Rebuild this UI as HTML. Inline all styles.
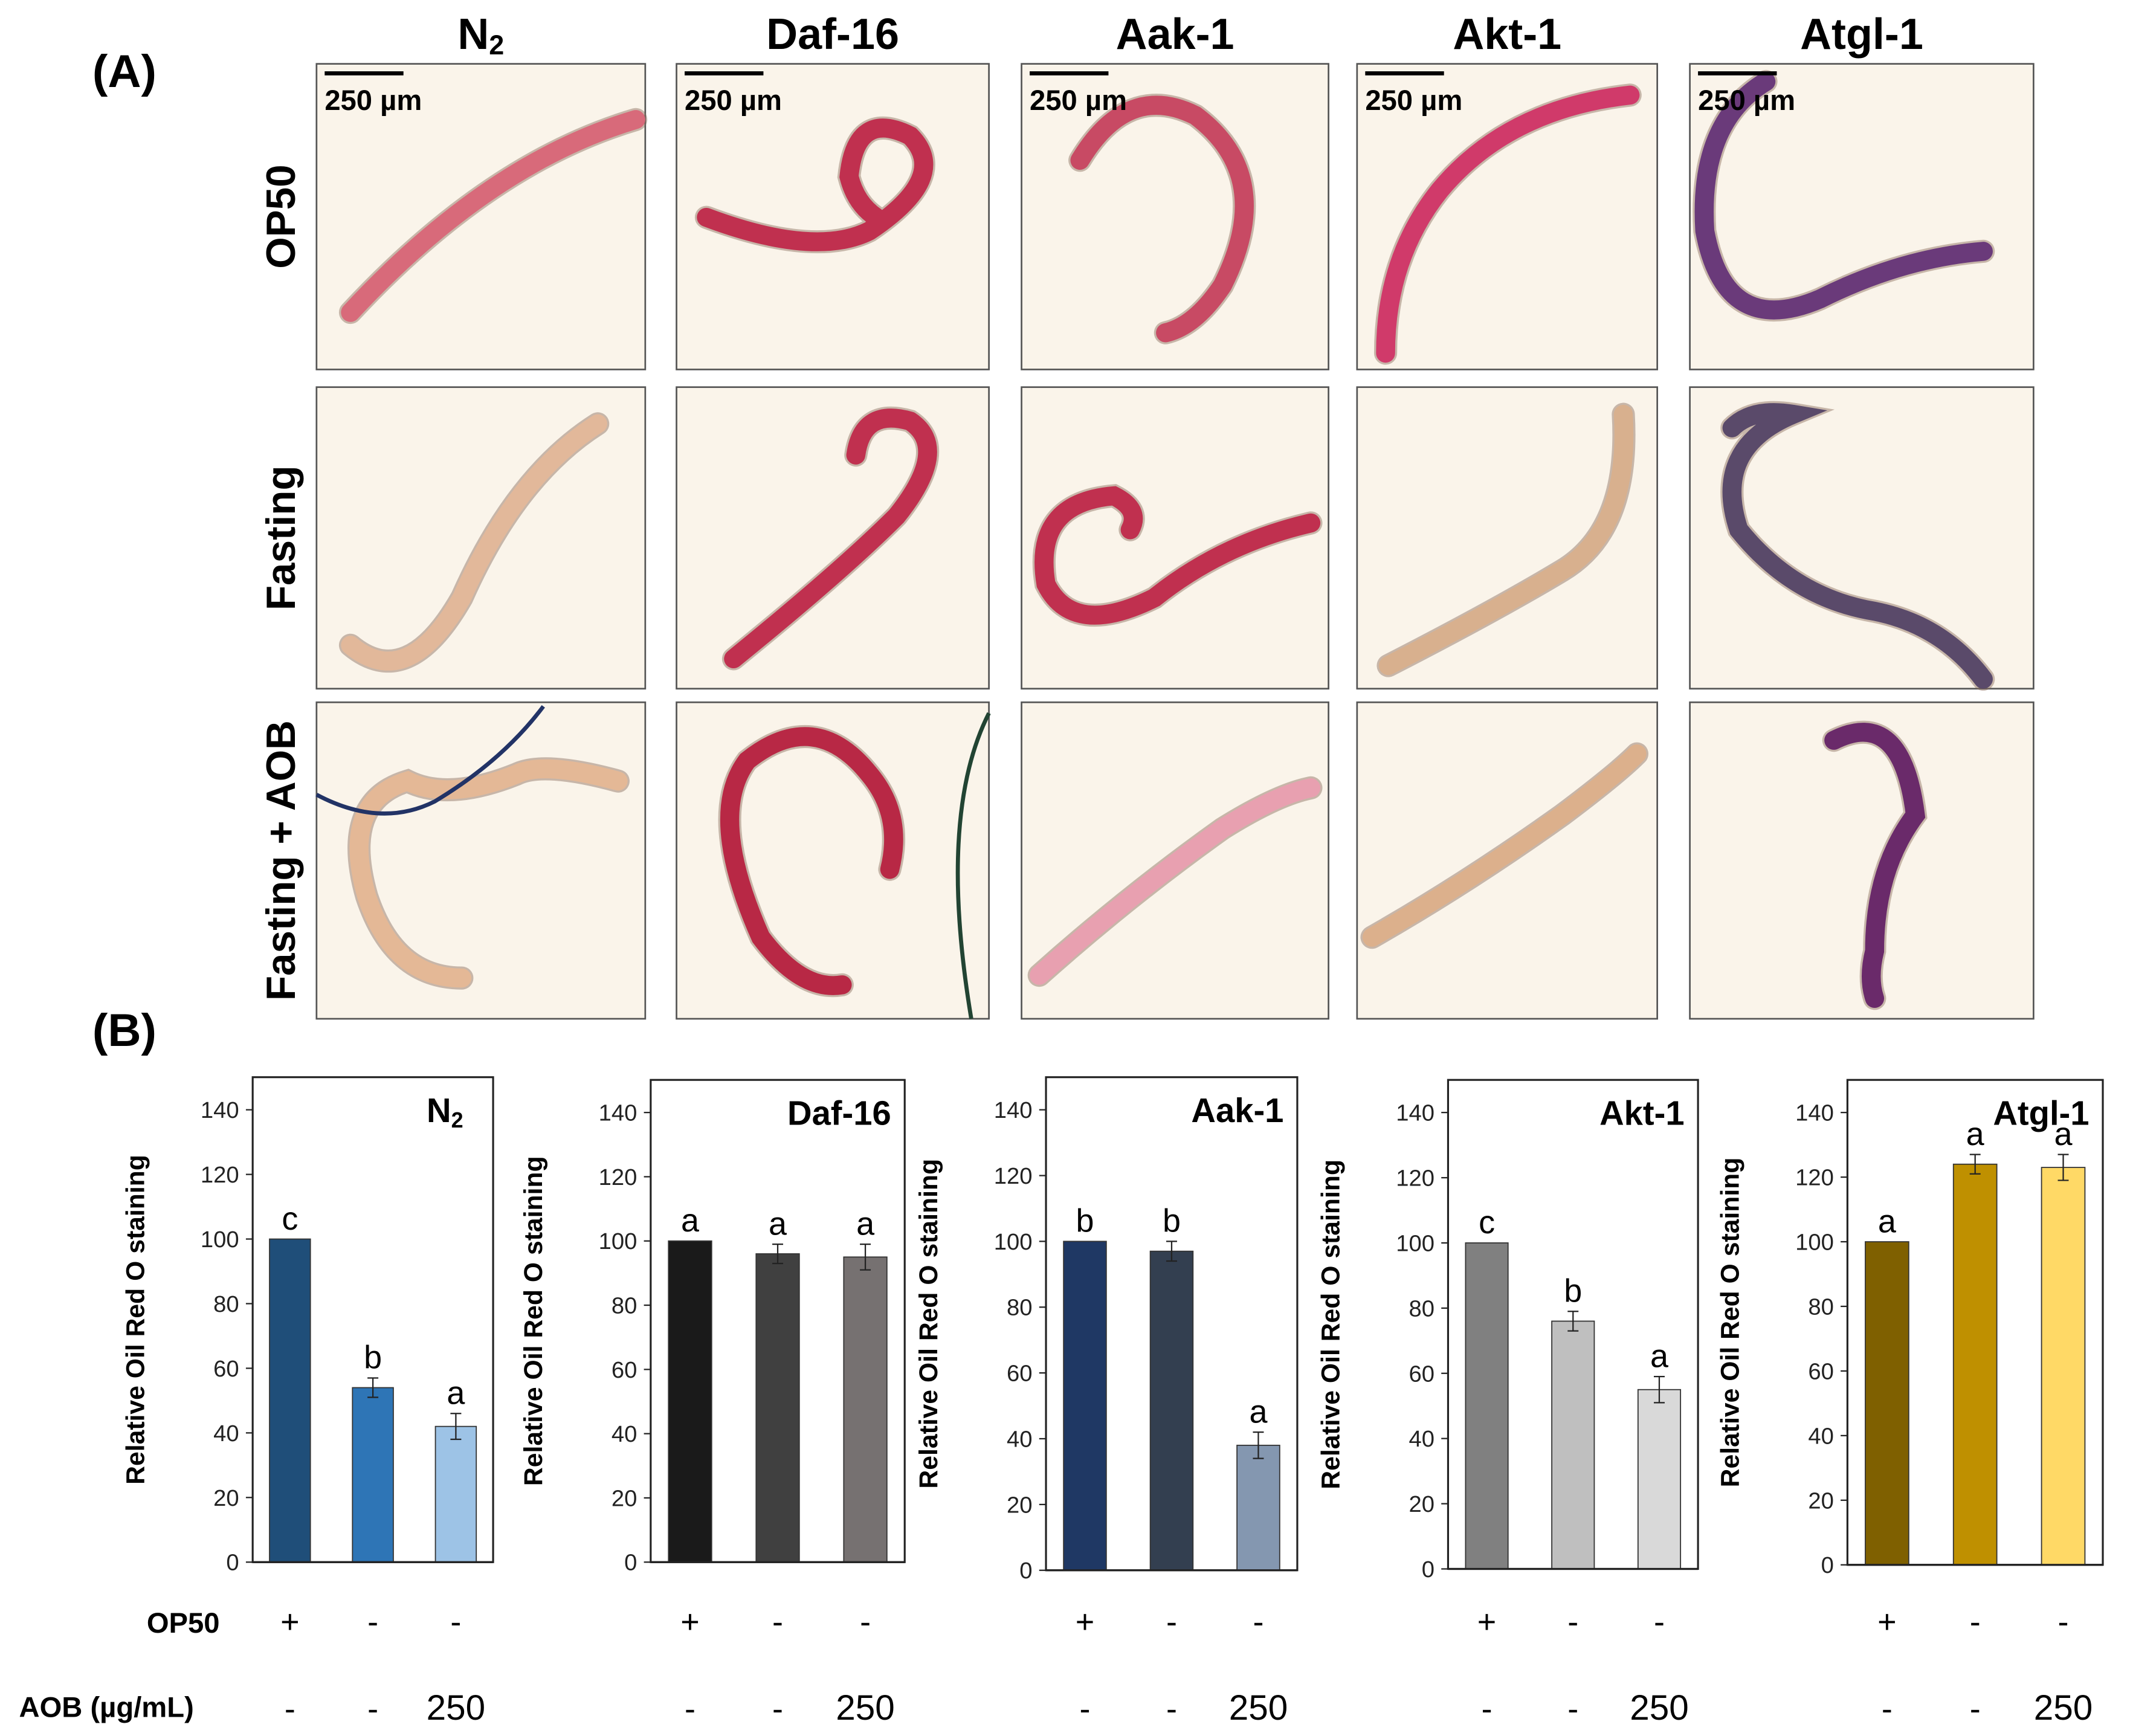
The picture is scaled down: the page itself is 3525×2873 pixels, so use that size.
<!DOCTYPE html>
<html><head><meta charset="utf-8"><style>
html,body{margin:0;padding:0;background:#fff}
svg{display:block}
text{font-family:"Liberation Sans",sans-serif}
</style></head><body>
<svg id="fig" width="3525" height="2873" viewBox="0 0 1568 1278" xmlns="http://www.w3.org/2000/svg">
<rect width="1568" height="1278" fill="#fff"/>
<text x="68" y="64" font-size="34" font-weight="bold">(A)</text>
<text x="68" y="770" font-size="34" font-weight="bold">(B)</text>
<g id="images"></g>
<g id="charts"></g>
<text x="108" y="1202" font-size="21" font-weight="bold">OP50</text>
<text x="14" y="1264" font-size="21" font-weight="bold">AOB (µg/mL)</text>
</svg>
<script>
const NS="http://www.w3.org/2000/svg";
function mk(tag,attrs,parent,txt){const e=document.createElementNS(NS,tag);for(const k in attrs)e.setAttribute(k,attrs[k]);if(txt!==undefined)e.textContent=txt;parent.appendChild(e);return e;}
// ---- Panel A ----
const colHeaders=["N","Daf-16","Aak-1","Akt-1","Atgl-1"];
const colX=[[233,475],[498,728],[752,978],[999,1220],[1244,1497]];
const rowY=[[47,272],[285,507],[517,750]];
const rowLabels=["OP50","Fasting","Fasting + AOB"];
const worms=[
 ["M258 230 Q360 120 468 88","M520 160 Q600 190 640 170 Q700 130 670 100 Q630 80 625 130 Q630 150 645 160","M795 118 Q830 60 880 85 Q940 130 900 210 Q880 240 858 245","M1020 260 Q1020 190 1060 140 Q1110 80 1200 70","M1300 60 Q1250 90 1255 170 Q1270 250 1340 220 Q1400 190 1460 185"],
 ["M258 475 Q300 510 340 440 Q380 350 440 312","M540 485 Q620 420 660 380 Q700 330 670 310 Q635 300 630 335","M965 385 Q900 400 850 440 Q790 470 770 430 Q760 370 820 365 Q840 375 832 390","M1022 490 Q1100 450 1150 420 Q1200 390 1195 305","M1275 315 Q1290 300 1320 305 Q1260 330 1280 390 Q1320 440 1380 450 Q1430 460 1460 500"],
 ["M455 575 Q400 560 380 570 Q330 590 300 575 Q250 590 270 660 Q290 720 340 720","M655 640 Q665 600 640 570 Q600 520 550 560 Q520 600 560 690 Q590 730 620 725","M765 718 Q830 660 900 610 Q940 585 965 580","M1010 690 Q1080 650 1150 600 Q1190 570 1205 555","M1350 545 Q1400 520 1410 600 Q1380 640 1380 700 Q1375 720 1380 735"]
];
const wormCol=[["#d86a7a","#c0304f","#c84a64","#d03a6a","#6a3a7a"],["#e2b89a","#c0304f","#c0304f","#d8b08e","#5a4a6a"],["#e4b896","#b82845","#e8a0b0","#dcb08c","#6a2a6a"]];
const gi=document.getElementById('images');
colHeaders.forEach((h,c)=>{
 const cx=(colX[c][0]+colX[c][1])/2;
 const t=mk('text',{x:cx,y:36,'font-size':32,'font-weight':'bold','text-anchor':'middle'},gi,h);
 
 
 if(c===0){mk('tspan',{'font-size':20,dy:4},t,'2');}
});
rowLabels.forEach((r,i)=>{
 const cy=(rowY[i][0]+rowY[i][1])/2;
 const t=mk('text',{x:207,y:cy,'font-size':30,'font-weight':'bold','text-anchor':'middle',transform:`rotate(-90 207 ${cy})`,dy:10},gi,r);
 
 
});
for(let r=0;r<3;r++)for(let c=0;c<5;c++){
 const [x0,x1]=colX[c],[y0,y1]=rowY[r];
 const rc=mk('rect',{x:x0,y:y0,width:x1-x0,height:y1-y0,fill:'#faf4ea',stroke:'#555','stroke-width':1.2},gi);
 
 
 const p=mk('path',{d:worms[r][c],fill:'none',stroke:'#8a6a5a','stroke-width':17,'stroke-linecap':'round','stroke-opacity':0.45},gi);
 
 
 const p2=mk('path',{d:worms[r][c],fill:'none',stroke:wormCol[r][c],'stroke-width':14,'stroke-linecap':'round'},gi);
 
 
 if(r===0){
  mk('line',{x1:x0+6,y1:y0+7,x2:x0+64,y2:y0+7,stroke:'#000','stroke-width':3},gi);
  const sb=mk('text',{x:x0+6,y:y0+34,'font-size':21,'font-weight':'bold'},gi,'250 µm');
  
  
 }
}
mk('path',{d:"M233 585 Q280 610 320 590 Q370 560 400 520",fill:'none',stroke:'#223366','stroke-width':3},gi);
mk('path',{d:"M728 525 Q690 600 715 750",fill:'none',stroke:'#224433','stroke-width':3},gi);
// ---- Panel B data ----
const strains=["N","Daf-16","Aak-1","Akt-1","Atgl-1"];
const values=[[100,54,42],[100,96,95],[100,97,38],[100,76,55],[100,124,123]];
const errors=[[0,3,4],[0,3,4],[0,3,4],[0,3,4],[0,3,4]];
const letters=[["c","b","a"],["a","a","a"],["b","b","a"],["c","b","a"],["a","a","a"]];
const yTicks=[0,20,40,60,80,100,120,140];
const op50Row=["+","-","-"];
const aobRow=["-","-","250"];
const colors=[["#1f4e79","#2e75b6","#9dc3e6"],["#1a1a1a","#404040","#767171"],["#1f3864","#333f50","#8497b0"],["#808080","#bfbfbf","#d9d9d9"],["#7f6000","#bf9000","#ffd966"]];
const boxes=[[186,363,793,1150],[479,666,795,1150],[770,955,793,1156],[1066,1250,795,1155],[1360,1548,795,1152]];
const gc=document.getElementById('charts');
strains.forEach((s,i)=>{
 const [L,R,T,B]=boxes[i];const W=R-L;
 const y140=T+24;
 const yS=v=>B-(v/140)*(B-y140);
 const g=mk('g',{},gc);
 
 
 const fr=mk('rect',{x:L,y:T,width:W,height:B-T,fill:'none',stroke:'#222','stroke-width':1.4},g);
 
 
 yTicks.forEach(v=>{
  mk('line',{x1:L-5,x2:L,y1:yS(v),y2:yS(v),stroke:'#222','stroke-width':1},g);
  const t=mk('text',{x:L-10,y:yS(v)+6,'font-size':17,'text-anchor':'end',fill:'#222'},g,v);
  
  
 });
 const ax=L-80,ay=(T+B)/2;
 const yt=mk('text',{x:ax,y:ay,'font-size':19,'font-weight':'bold','text-anchor':'middle',transform:`rotate(-90 ${ax} ${ay})`},g,'Relative Oil Red O staining');
 
 
 const st=mk('text',{x:R-10,y:T+33,'font-size':25,'font-weight':'bold','text-anchor':'end'},g,s);
 
 
 if(i===0){st.setAttribute('x',R-22);mk('tspan',{'font-size':16,dy:4},st,'2');}
 const fr2=[0.155,0.5,0.845];const bw=W*0.17;
 values[i].forEach((v,j)=>{
  const cx=L+W*fr2[j];
  const b=mk('rect',{x:cx-bw/2,y:yS(v),width:bw,height:B-yS(v),fill:colors[i][j],stroke:'#333','stroke-width':0.8},g);
  
  
  const e=errors[i][j];
  if(e>0){
   mk('line',{x1:cx,x2:cx,y1:yS(v+e),y2:yS(v-e),stroke:'#222','stroke-width':1},g);
   mk('line',{x1:cx-4,x2:cx+4,y1:yS(v+e),y2:yS(v+e),stroke:'#222','stroke-width':1},g);
   mk('line',{x1:cx-4,x2:cx+4,y1:yS(v-e),y2:yS(v-e),stroke:'#222','stroke-width':1},g);
  }
  const lt=mk('text',{x:cx,y:yS(v+e)-7,'font-size':24,'text-anchor':'middle'},g,letters[i][j]);
  
  
  const o=mk('text',{x:cx,y:1202,'font-size':24,'text-anchor':'middle'},g,op50Row[j]);
  
  
  const a=mk('text',{x:cx,y:1266,'font-size':aobRow[j]==='250'?26:24,'text-anchor':'middle'},g,aobRow[j]);
  
  
 });
 mk('line',{x1:L,x2:R,y1:B,y2:B,stroke:'#222','stroke-width':1.4},g);
});
</script>
</body></html>
